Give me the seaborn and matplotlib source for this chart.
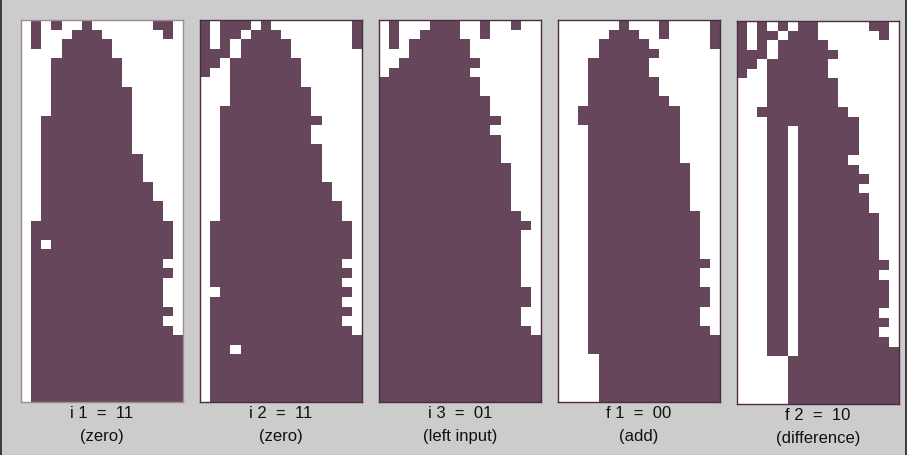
import numpy as np
import matplotlib
matplotlib.use("Agg")
import matplotlib.pyplot as plt
from matplotlib.colors import ListedColormap
from matplotlib.lines import Line2D
import seaborn as sns

# Cell states (1 = filled) for each configuration, one string per row, top to bottom.
grid_i1 = [
    "0101001000000110", "0100011100000010", "0100111110000000", "0000111110000000",
    "0001111111000000", "0001111111000000", "0001111111000000", "0001111111100000",
    "0001111111100000", "0001111111100000", "0011111111100000", "0011111111100000",
    "0011111111100000", "0011111111100000", "0011111111110000", "0011111111110000",
    "0011111111110000", "0011111111111000", "0011111111111000", "0011111111111100",
    "0011111111111100", "0111111111111110", "0111111111111110", "0101111111111110",
    "0111111111111110", "0111111111111100", "0111111111111110", "0111111111111100",
    "0111111111111100", "0111111111111100", "0111111111111110", "0111111111111100",
    "0111111111111110", "0111111111111111", "0111111111111111", "0111111111111111",
    "0111111111111111", "0111111111111111", "0111111111111111", "0111111111111111",
]

grid_i2 = [
    "1011101000000001", "1011011100000001", "1010111110000001", "1110111110000000",
    "1101111111000000", "1001111111000000", "0001111111000000", "0001111111100000",
    "0001111111100000", "0011111111100000", "0011111111110000", "0011111111100000",
    "0011111111100000", "0011111111110000", "0011111111110000", "0011111111110000",
    "0011111111110000", "0011111111111000", "0011111111111000", "0011111111111100",
    "0011111111111100", "0111111111111110", "0111111111111110", "0111111111111110",
    "0111111111111110", "0111111111111100", "0111111111111110", "0111111111111100",
    "0011111111111110", "0111111111111100", "0111111111111110", "0111111111111100",
    "0111111111111110", "0111111111111111", "0110111111111111", "0111111111111111",
    "0111111111111111", "0111111111111111", "0111111111111111", "0111111111111111",
]

grid_i3 = [
    "0100011100100100", "0100111100100000", "0101111110000000", "0001111110000000",
    "0011111111000000", "0111111110000000", "1111111111000000", "1111111111000000",
    "1111111111100000", "1111111111100000", "1111111111110000", "1111111111100000",
    "1111111111110000", "1111111111110000", "1111111111110000", "1111111111111000",
    "1111111111111000", "1111111111111000", "1111111111111000", "1111111111111000",
    "1111111111111100", "1111111111111110", "1111111111111100", "1111111111111100",
    "1111111111111100", "1111111111111100", "1111111111111100", "1111111111111100",
    "1111111111111110", "1111111111111110", "1111111111111100", "1111111111111100",
    "1111111111111110", "1111111111111111", "1111111111111111", "1111111111111111",
    "1111111111111111", "1111111111111111", "1111111111111111", "1111111111111111",
]

grid_f1 = [
    "0000001000100001", "0000011100100001", "0000111110000001", "0000111111000000",
    "0001111110000000", "0001111110000000", "0001111111000000", "0001111111000000",
    "0001111111100000", "0011111111110000", "0011111111110000", "0001111111110000",
    "0001111111110000", "0001111111110000", "0001111111110000", "0001111111111000",
    "0001111111111000", "0001111111111000", "0001111111111000", "0001111111111000",
    "0001111111111100", "0001111111111100", "0001111111111100", "0001111111111100",
    "0001111111111100", "0001111111111110", "0001111111111100", "0001111111111100",
    "0001111111111110", "0001111111111110", "0001111111111100", "0001111111111100",
    "0001111111111110", "0001111111111111", "0001111111111111", "0000111111111111",
    "0000111111111111", "0000111111111111", "0000111111111111", "0000111111111111",
]

grid_f2 = [
    "1010101100000110", "1011011100000010", "1010111110000000", "1110111111000000",
    "1101111110000000", "1001111110000000", "0001111111000000", "0001111111000000",
    "0001111111000000", "0011111111100000", "0001111111110000", "0001101111110000",
    "0001101111110000", "0001101111110000", "0001101111100000", "0001101111110000",
    "0001101111111000", "0001101111110000", "0001101111111000", "0001101111111000",
    "0001101111111100", "0001101111111100", "0001101111111100", "0001101111111100",
    "0001101111111100", "0001101111111110", "0001101111111100", "0001101111111110",
    "0001101111111110", "0001101111111110", "0001101111111100", "0001101111111110",
    "0001101111111100", "0001101111111110", "0001101111111111", "0000011111111111",
    "0000011111111111", "0000011111111111", "0000011111111111", "0000011111111111",
]

codes = ["i 1  =  11", "i 2  =  11", "i 3  =  01", "f 1  =  00", "f 2  =  10"]
meanings = ["(zero)", "(zero)", "(left input)", "(add)", "(difference)"]

grids = [grid_i1, grid_i2, grid_i3, grid_f1, grid_f2]

W, H = 907, 455
FILL = "#65465a"
BG = "#cccccc"

sns.set_theme(style="white")
plt.rcParams["font.family"] = ["Liberation Sans Narrow", "Liberation Sans", "DejaVu Sans"]

fig = plt.figure(figsize=(W / 100, H / 100), dpi=100, facecolor=BG)

# panel boxes in pixels: left, top, width, height
boxes = [
    (21, 20, 162, 382),
    (200, 20, 162, 382),
    (379, 20, 162, 382),
    (558, 20, 162, 382),
    (737, 21, 162, 383),
]
edge_colors = ["#9d8894", "#4b2c40", "#4b2c40", "#4b2c40", "#4b2c40"]

cmap = ListedColormap(["#ffffff", FILL])

for rows, code, meaning, (x, y, w, h), ec in zip(grids, codes, meanings, boxes, edge_colors):
    mat = np.array([[int(ch) for ch in r] for r in rows])
    ax = fig.add_axes([x / W, 1 - (y + h) / H, w / W, h / H])
    sns.heatmap(mat, ax=ax, cmap=cmap, vmin=0, vmax=1, cbar=False,
                xticklabels=False, yticklabels=False, linewidths=0)
    for s in ax.spines.values():
        s.set_visible(True)
        s.set_color(ec)
        s.set_linewidth(1.0)
    cx = (x + w / 2) / W
    fig.text(cx, 1 - (y + h + 11) / H, code, ha="center", va="center",
             fontsize=12, color="#111111")
    fig.text(cx, 1 - (y + h + 34) / H, meaning, ha="center", va="center",
             fontsize=12, color="#111111")

# thin frame lines at the sides of the figure
fig.add_artist(Line2D([0.5 / W, 0.5 / W], [0, 1], color="#222222", lw=1.2))
fig.add_artist(Line2D([1 - 1.5 / W, 1 - 1.5 / W], [0, 1], color="#222222", lw=1.2))

fig.savefig("out.png", dpi=100, facecolor=BG)
